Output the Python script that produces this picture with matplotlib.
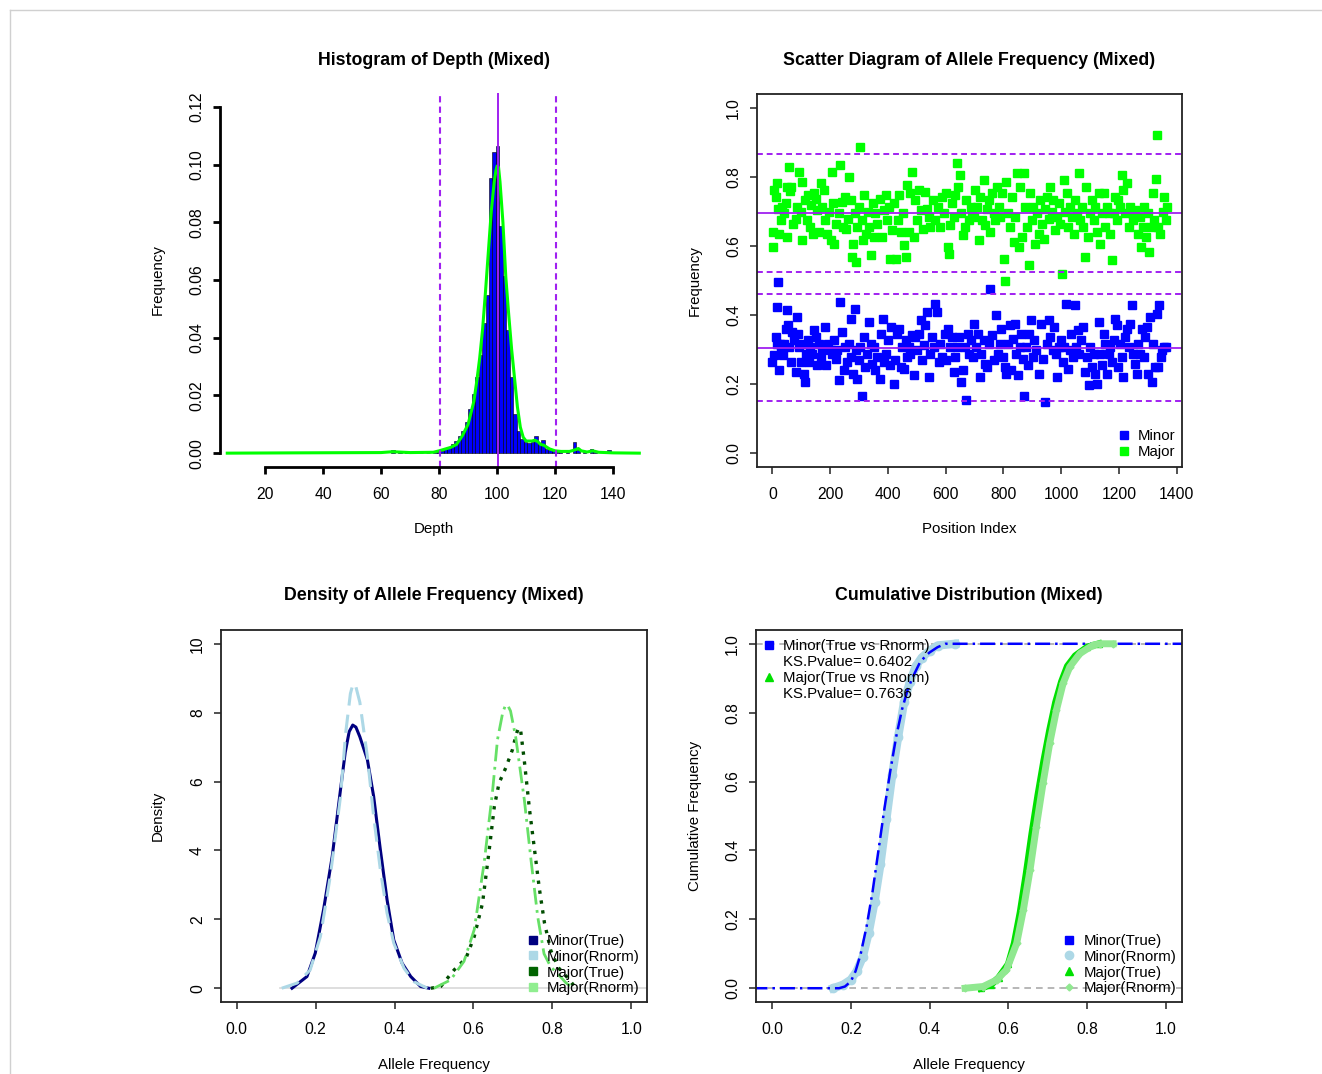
import matplotlib
matplotlib.use("Agg")
import matplotlib.pyplot as plt
from matplotlib.lines import Line2D

plt.rcParams['font.family'] = ['Liberation Sans', 'DejaVu Sans']
plt.rcParams['font.size'] = 10.8

PURPLE = '#A020F0'
BOX = '#222222'

# ---- data: histogram of depth (bin left edges, width 1.2) ----
bin_width = 1.2
depth_bins = [31.2, 34.8, 44.4, 63.6, 66.0, 68.4, 73.2, 75.6, 78.0, 79.2,
              80.4, 81.6, 82.8, 84.0, 85.2, 86.4, 87.6, 88.8, 90.0, 91.2,
              92.4, 93.6, 94.8, 96.0, 97.2, 98.4, 99.6, 100.8, 102.0, 103.2,
              104.4, 105.6, 106.8, 108.0, 109.2, 110.4, 111.6, 112.8, 114.0, 115.2,
              116.4, 117.6, 118.8, 120.0, 121.2, 123.6, 126.0, 127.2, 129.6, 132.0,
              133.2, 138.0]
depth_freq = [0.0002, 0.0002, 0.0002, 0.0010, 0.0003, 0.0003, 0.0002, 0.0002, 0.0004, 0.0005,
              0.0008, 0.0014, 0.0020, 0.0031, 0.0043, 0.0060, 0.0078, 0.0107, 0.0153, 0.0206,
              0.0264, 0.0340, 0.0450, 0.0549, 0.0955, 0.1045, 0.1066, 0.0787, 0.0613, 0.0427,
              0.0264, 0.0136, 0.0078, 0.0049, 0.0040, 0.0036, 0.0040, 0.0058, 0.0030, 0.0045,
              0.0015, 0.0010, 0.0008, 0.0005, 0.0004, 0.0003, 0.0037, 0.0010, 0.0004, 0.0015,
              0.0008, 0.0010]
depth_dens_x = [7, 30, 60, 64, 70, 78, 80, 84, 86, 88, 90, 91, 92, 93, 94, 95, 96, 97, 98,
                99, 99.6, 100, 100.5, 101, 102, 103, 104, 105, 106, 107, 108, 109, 110, 112,
                113, 114, 115, 116, 118, 120, 122, 125, 127, 128, 129, 131, 133, 135, 140, 149]
depth_dens_y = [0.0, 0.0001, 0.0002, 0.0005, 0.0002, 0.0003, 0.0008, 0.002, 0.003, 0.006,
                0.010, 0.014, 0.018, 0.025, 0.033, 0.043, 0.056, 0.070, 0.084, 0.094,
                0.098, 0.0995, 0.099, 0.094, 0.080, 0.061, 0.048, 0.036, 0.026, 0.016,
                0.009, 0.0055, 0.0042, 0.0042, 0.0045, 0.0040, 0.0030, 0.0028, 0.0015,
                0.0008, 0.0006, 0.0006, 0.0012, 0.0016, 0.0008, 0.0004, 0.0008, 0.0003,
                0.0001, 0.0]
depth_mean = 100.3
depth_low, depth_high = 80.3, 120.2

# ---- data: scatter of allele frequency ----
minor_idx = [0, 6, 12, 15, 17, 20, 23, 26, 31, 36, 40, 46, 52, 55, 59, 63, 69, 75, 81, 84,
             89, 92, 98, 104, 109, 113, 117, 123, 128, 132, 138, 144, 150, 156, 161, 167, 173,
             181, 187, 194, 202, 207, 213, 219, 225, 230, 236, 241, 248, 253, 259, 265, 271,
             274, 280, 285, 289, 294, 300, 305, 311, 316, 320, 326, 334, 340, 346, 351, 357,
             363, 371, 377, 382, 388, 394, 400, 407, 412, 421, 426, 432, 438, 444, 449, 455,
             461, 467, 474, 478, 484, 490, 495, 501, 507, 513, 519, 524, 530, 536, 541, 547,
             553, 559, 564, 570, 576, 582, 588, 596, 601, 607, 614, 622, 628, 634, 639, 646,
             654, 660, 666, 672, 676, 682, 688, 694, 699, 706, 712, 718, 724, 731, 737, 743,
             750, 755, 760, 766, 774, 780, 787, 793, 798, 804, 810, 816, 821, 827, 833, 839,
             844, 850, 856, 861, 866, 872, 878, 884, 889, 895, 901, 907, 913, 922, 930, 937,
             945, 950, 956, 962, 970, 976, 982, 987, 993, 999, 1005, 1010, 1017, 1023, 1029,
             1035, 1041, 1046, 1052, 1058, 1063, 1069, 1077, 1083, 1089, 1095, 1101, 1106,
             1112, 1118, 1123, 1129, 1135, 1141, 1147, 1152, 1158, 1164, 1170, 1175, 1181,
             1187, 1193, 1198, 1204, 1210, 1215, 1221, 1227, 1233, 1238, 1244, 1250, 1256,
             1262, 1267, 1273, 1279, 1285, 1290, 1296, 1302, 1308, 1313, 1319, 1325, 1331,
             1336, 1340, 1345, 1350, 1356, 1361]
minor_af = [0.264, 0.283, 0.336, 0.317, 0.423, 0.496, 0.240, 0.317, 0.302, 0.283, 0.317, 0.360,
            0.414, 0.370, 0.307, 0.264, 0.351, 0.327, 0.235, 0.394, 0.346, 0.307, 0.264, 0.317,
            0.230, 0.206, 0.288, 0.327, 0.264, 0.307, 0.288, 0.356, 0.336, 0.254, 0.317, 0.278,
            0.298, 0.365, 0.254, 0.317, 0.298, 0.288, 0.327, 0.273, 0.298, 0.211, 0.438, 0.351,
            0.240, 0.307, 0.264, 0.317, 0.389, 0.278, 0.230, 0.418, 0.298, 0.215, 0.269, 0.307,
            0.167, 0.336, 0.249, 0.288, 0.380, 0.317, 0.259, 0.307, 0.240, 0.278, 0.215, 0.346,
            0.389, 0.264, 0.288, 0.327, 0.254, 0.365, 0.201, 0.269, 0.346, 0.360, 0.249, 0.307,
            0.244, 0.327, 0.278, 0.307, 0.288, 0.341, 0.225, 0.336, 0.298, 0.346, 0.385, 0.269,
            0.312, 0.370, 0.409, 0.220, 0.288, 0.336, 0.307, 0.433, 0.409, 0.264, 0.317, 0.278,
            0.346, 0.269, 0.360, 0.307, 0.336, 0.235, 0.278, 0.307, 0.336, 0.206, 0.240, 0.307,
            0.153, 0.346, 0.288, 0.327, 0.278, 0.375, 0.307, 0.346, 0.220, 0.288, 0.327, 0.259,
            0.249, 0.317, 0.476, 0.341, 0.269, 0.399, 0.288, 0.317, 0.360, 0.278, 0.249, 0.230,
            0.317, 0.370, 0.240, 0.331, 0.375, 0.288, 0.225, 0.307, 0.346, 0.273, 0.167, 0.307,
            0.254, 0.346, 0.385, 0.278, 0.327, 0.298, 0.230, 0.375, 0.273, 0.148, 0.317, 0.385,
            0.336, 0.298, 0.365, 0.288, 0.220, 0.307, 0.327, 0.264, 0.307, 0.433, 0.244, 0.298,
            0.346, 0.278, 0.428, 0.307, 0.356, 0.288, 0.327, 0.365, 0.235, 0.278, 0.196, 0.307,
            0.249, 0.288, 0.230, 0.201, 0.380, 0.288, 0.254, 0.346, 0.317, 0.230, 0.288, 0.307,
            0.264, 0.327, 0.389, 0.370, 0.249, 0.317, 0.278, 0.220, 0.336, 0.360, 0.307, 0.375,
            0.428, 0.288, 0.259, 0.230, 0.317, 0.288, 0.360, 0.278, 0.336, 0.365, 0.230, 0.394,
            0.206, 0.317, 0.249, 0.404, 0.249, 0.428, 0.278, 0.298, 0.307, 0.307]
major_idx = [3, 3, 6, 12, 15, 20, 23, 29, 35, 40, 46, 50, 52, 58, 61, 66, 73, 81, 86, 92, 98,
             104, 104, 112, 119, 123, 130, 135, 142, 144, 150, 156, 161, 167, 173, 179, 184,
             190, 196, 202, 207, 211, 215, 222, 230, 236, 242, 245, 251, 256, 262, 267, 271,
             276, 280, 285, 290, 294, 300, 305, 311, 315, 319, 325, 331, 336, 342, 347, 351,
             357, 363, 372, 380, 386, 392, 397, 403, 409, 415, 421, 429, 434, 440, 446, 453,
             457, 461, 467, 472, 478, 484, 490, 495, 501, 507, 513, 522, 530, 536, 541, 547,
             556, 564, 573, 580, 587, 593, 601, 607, 611, 616, 622, 628, 634, 639, 643, 649,
             654, 660, 666, 672, 680, 686, 691, 697, 703, 709, 714, 720, 726, 731, 737, 743,
             749, 755, 760, 766, 772, 778, 784, 789, 795, 803, 807, 810, 816, 821, 829, 835,
             841, 847, 853, 858, 864, 870, 876, 881, 887, 893, 899, 904, 910, 916, 922, 927,
             933, 939, 945, 950, 956, 962, 968, 973, 979, 985, 991, 997, 1002, 1008, 1014,
             1020, 1025, 1031, 1037, 1043, 1048, 1054, 1060, 1066, 1071, 1077, 1083, 1086,
             1091, 1098, 1106, 1112, 1118, 1123, 1129, 1135, 1141, 1147, 1152, 1158, 1164,
             1170, 1175, 1181, 1187, 1193, 1198, 1204, 1210, 1215, 1221, 1227, 1233, 1238,
             1244, 1250, 1256, 1264, 1271, 1276, 1282, 1288, 1294, 1300, 1305, 1311, 1317,
             1322, 1328, 1333, 1336, 1342, 1352, 1356, 1361, 1365]
major_af = [0.597, 0.641, 0.761, 0.742, 0.781, 0.708, 0.636, 0.674, 0.713, 0.694, 0.723, 0.771,
            0.626, 0.829, 0.758, 0.771, 0.665, 0.679, 0.713, 0.815, 0.699, 0.786, 0.617, 0.732,
            0.674, 0.747, 0.655, 0.718, 0.636, 0.752, 0.737, 0.703, 0.641, 0.781, 0.713, 0.761,
            0.674, 0.636, 0.699, 0.616, 0.815, 0.723, 0.607, 0.665, 0.694, 0.834, 0.728, 0.655,
            0.742, 0.650, 0.679, 0.800, 0.732, 0.568, 0.607, 0.694, 0.554, 0.655, 0.713, 0.887,
            0.674, 0.616, 0.747, 0.636, 0.699, 0.655, 0.573, 0.723, 0.626, 0.694, 0.665, 0.737,
            0.626, 0.703, 0.747, 0.674, 0.713, 0.563, 0.645, 0.723, 0.563, 0.674, 0.747, 0.641,
            0.694, 0.602, 0.568, 0.776, 0.641, 0.752, 0.815, 0.626, 0.732, 0.674, 0.761, 0.703,
            0.650, 0.757, 0.708, 0.684, 0.655, 0.732, 0.674, 0.713, 0.655, 0.742, 0.694, 0.752,
            0.597, 0.578, 0.660, 0.723, 0.684, 0.747, 0.839, 0.771, 0.805, 0.694, 0.631, 0.655,
            0.732, 0.674, 0.713, 0.694, 0.684, 0.761, 0.713, 0.616, 0.742, 0.674, 0.790, 0.660,
            0.708, 0.732, 0.641, 0.752, 0.694, 0.674, 0.771, 0.713, 0.684, 0.752, 0.563, 0.500,
            0.786, 0.694, 0.655, 0.742, 0.612, 0.684, 0.810, 0.597, 0.771, 0.626, 0.810, 0.713,
            0.655, 0.544, 0.752, 0.674, 0.713, 0.607, 0.694, 0.636, 0.732, 0.665, 0.621, 0.708,
            0.742, 0.679, 0.771, 0.699, 0.732, 0.645, 0.684, 0.723, 0.665, 0.520, 0.790, 0.699,
            0.752, 0.655, 0.713, 0.684, 0.636, 0.732, 0.694, 0.810, 0.674, 0.713, 0.655, 0.568,
            0.771, 0.626, 0.694, 0.732, 0.674, 0.713, 0.641, 0.752, 0.607, 0.694, 0.752, 0.655,
            0.713, 0.694, 0.636, 0.558, 0.694, 0.742, 0.674, 0.732, 0.713, 0.805, 0.761, 0.694,
            0.781, 0.655, 0.713, 0.694, 0.674, 0.703, 0.636, 0.684, 0.597, 0.655, 0.713, 0.626,
            0.694, 0.583, 0.655, 0.752, 0.674, 0.795, 0.921, 0.655, 0.636, 0.699, 0.742, 0.674,
            0.713]
minor_mean, minor_lo, minor_hi = 0.305, 0.151, 0.461
major_mean, major_lo, major_hi = 0.694, 0.524, 0.866

# ---- data: density curves ----
minor_true_x = [0.140, 0.178, 0.199, 0.220, 0.242, 0.263, 0.275, 0.285, 0.294, 0.302, 0.312,
                0.331, 0.347, 0.364, 0.381, 0.398, 0.419, 0.441, 0.466, 0.487]
minor_true_d = [0.0, 0.34, 1.02, 2.28, 3.83, 5.77, 6.85, 7.45, 7.64, 7.58, 7.30, 6.64, 5.57,
                4.02, 2.57, 1.40, 0.73, 0.34, 0.05, 0.0]
minor_rnorm_x = [0.114, 0.153, 0.186, 0.212, 0.237, 0.263, 0.276, 0.288, 0.295, 0.302, 0.312,
                 0.331, 0.347, 0.364, 0.381, 0.398, 0.424, 0.449, 0.483]
minor_rnorm_d = [0.0, 0.15, 0.53, 1.50, 3.25, 5.57, 7.40, 8.55, 8.85, 8.75, 8.30, 6.73, 4.99,
                 3.44, 2.18, 1.31, 0.58, 0.19, 0.0]
major_true_x = [0.492, 0.517, 0.551, 0.581, 0.602, 0.623, 0.640, 0.653, 0.665, 0.682, 0.699,
                0.708, 0.714, 0.720, 0.729, 0.742, 0.754, 0.767, 0.780, 0.796, 0.815, 0.839,
                0.860]
major_true_d = [0.0, 0.05, 0.53, 0.87, 1.50, 2.47, 4.02, 5.28, 5.96, 6.40, 6.93, 7.35, 7.56,
                7.45, 6.60, 5.20, 4.10, 2.90, 1.90, 1.10, 0.60, 0.30, 0.0]
major_rnorm_x = [0.500, 0.542, 0.576, 0.602, 0.627, 0.648, 0.661, 0.674, 0.680, 0.686, 0.694,
                 0.707, 0.729, 0.746, 0.763, 0.779, 0.796, 0.813, 0.835, 0.855]
major_rnorm_d = [0.0, 0.24, 0.78, 1.70, 3.63, 5.67, 7.22, 7.99, 8.18, 8.23, 8.05, 7.30, 5.47,
                 3.72, 2.07, 1.00, 0.62, 0.43, 0.15, 0.0]

# ---- data: cumulative distributions ----
cdf_minor_true_x = [0.17, 0.185, 0.20, 0.212, 0.225, 0.24, 0.255, 0.27, 0.285, 0.30, 0.315,
                    0.33, 0.345, 0.36, 0.375, 0.39, 0.40, 0.42, 0.44]
cdf_minor_true_y = [0.0, 0.005, 0.02, 0.05, 0.10, 0.18, 0.28, 0.40, 0.52, 0.63, 0.73, 0.81,
                    0.87, 0.91, 0.945, 0.965, 0.975, 0.99, 1.0]
cdf_minor_rnorm_x = [0.155, 0.18, 0.20, 0.215, 0.23, 0.245, 0.26, 0.275, 0.29, 0.305, 0.32,
                     0.335, 0.35, 0.365, 0.38, 0.40, 0.42, 0.465]
cdf_minor_rnorm_y = [0.0, 0.01, 0.025, 0.05, 0.09, 0.16, 0.25, 0.36, 0.49, 0.62, 0.73, 0.83,
                     0.89, 0.935, 0.96, 0.98, 0.995, 1.0]
cdf_major_true_x = [0.53, 0.555, 0.575, 0.60, 0.615, 0.63, 0.645, 0.66, 0.675, 0.69, 0.705,
                    0.72, 0.735, 0.75, 0.77, 0.80, 0.83]
cdf_major_true_y = [0.0, 0.01, 0.03, 0.07, 0.13, 0.22, 0.33, 0.45, 0.56, 0.66, 0.75, 0.83,
                    0.89, 0.935, 0.965, 0.99, 1.0]
cdf_major_rnorm_x = [0.49, 0.536, 0.57, 0.595, 0.621, 0.638, 0.655, 0.671, 0.688, 0.705, 0.722,
                     0.739, 0.756, 0.782, 0.815, 0.832, 0.866]
cdf_major_rnorm_y = [0.0, 0.005, 0.024, 0.053, 0.13, 0.227, 0.343, 0.469, 0.595, 0.711, 0.807,
                     0.885, 0.933, 0.972, 0.996, 1.0, 1.0]
ks_minor, ks_major = 0.6402, 0.7636

W, H = 1322, 1074
fig = plt.figure(figsize=(W / 100, H / 100), dpi=100)


def px_axes(l, t, r, b):
    return fig.add_axes([l / W, 1 - b / H, (r - l) / W, (b - t) / H])


def style_box(ax):
    for s in ax.spines.values():
        s.set_color(BOX)
        s.set_linewidth(1.3)
    ax.tick_params(direction='out', length=5, width=1.1, color=BOX, labelsize=11.3)
    ax.tick_params(axis='x', pad=9.5)
    ax.tick_params(axis='y', labelrotation=90, pad=6.5)
    for lab in ax.get_yticklabels():
        lab.set_va('center')


def labels(ax, title, xl, yl, ty, xy, yx):
    ax.set_title(title, fontsize=12.8, fontweight='bold', y=ty, va='center', pad=0)
    ax.set_xlabel(xl, fontsize=10.8)
    ax.set_ylabel(yl, fontsize=10.8)
    ax.xaxis.set_label_coords(0.5, xy)
    ax.yaxis.set_label_coords(yx, 0.5)
    ax.xaxis.label.set_va('center')
    ax.yaxis.label.set_va('center')


# ---------- histogram ----------
ax1 = px_axes(220, 93, 648, 467)
ax1.bar(depth_bins, depth_freq, width=bin_width, align='edge', color='#0000FF',
        edgecolor='black', linewidth=0.4)
ax1.plot(depth_dens_x, depth_dens_y, color='#00FF00', lw=2.2)
ax1.axvline(depth_mean, color=PURPLE, lw=1.4)
for v in (depth_low, depth_high):
    ax1.axvline(v, color=PURPLE, lw=1.5, ls=(0, (3, 2)))
ax1.set_xlim(4.5, 152)
ax1.set_ylim(-0.0048, 0.1248)
ax1.set_xticks(range(20, 141, 20))
ax1.set_yticks([0, 0.02, 0.04, 0.06, 0.08, 0.10, 0.12])
ax1.set_yticklabels(['0.00', '0.02', '0.04', '0.06', '0.08', '0.10', '0.12'])
style_box(ax1)
ax1.spines['top'].set_visible(False)
ax1.spines['right'].set_visible(False)
ax1.spines['bottom'].set_bounds(20, 140)
ax1.spines['left'].set_bounds(0, 0.12)
ax1.spines['bottom'].set_color('black')
ax1.spines['left'].set_color('black')
ax1.spines['bottom'].set_linewidth(2)
ax1.spines['left'].set_linewidth(2)
ax1.tick_params(width=2, color='black')
labels(ax1, 'Histogram of Depth (Mixed)', 'Depth', 'Frequency', 1.087, -0.166, -0.145)

# ---------- scatter ----------
ax2 = px_axes(757, 94, 1182, 467)
ax2.plot(minor_idx, minor_af, 's', color='#0000FF', ms=5.6, label='Minor')
ax2.plot(major_idx, major_af, 's', color='#00FF00', ms=5.6, label='Major')
for v in (minor_mean, major_mean):
    ax2.axhline(v, color=PURPLE, lw=1.3)
for v in (minor_lo, minor_hi, major_lo, major_hi):
    ax2.axhline(v, color=PURPLE, lw=1.4, ls=(0, (3, 2)))
ax2.set_xlim(-53, 1418)
ax2.set_ylim(-0.04, 1.04)
ax2.set_xticks(range(0, 1401, 200))
ax2.set_yticks([0, 0.2, 0.4, 0.6, 0.8, 1.0])
ax2.set_yticklabels(['0.0', '0.2', '0.4', '0.6', '0.8', '1.0'])
style_box(ax2)
ax2.legend(loc='lower left', bbox_to_anchor=(0.849, 0.022), frameon=False, borderpad=0,
           borderaxespad=0, handlelength=0.8, handletextpad=0.55, labelspacing=0.12,
           fontsize=10.8)
labels(ax2, 'Scatter Diagram of Allele Frequency (Mixed)', 'Position Index', 'Frequency',
       1.09, -0.166, -0.146)

# ---------- density ----------
ax3 = px_axes(221, 630, 647, 1002)
ax3.plot([0.11, 1.05], [0, 0], color='#d8d8d8', lw=1.2)
ax3.plot(minor_true_x, minor_true_d, color='#000080', lw=2.2)
ax3.plot(minor_rnorm_x, minor_rnorm_d, color='#ADD8E6', lw=2.2, ls=(0, (6, 3)))
ax3.plot(major_true_x, major_true_d, color='#004d00', lw=2.4, ls=(0, (1, 2)))
ax3.plot(major_rnorm_x, major_rnorm_d, color='#66E066', lw=2.0, ls=(0, (6, 2, 1, 2)))
ax3.set_xlim(-0.04, 1.04)
ax3.set_ylim(-0.4, 10.4)
ax3.set_xticks([0, 0.2, 0.4, 0.6, 0.8, 1.0])
ax3.set_xticklabels(['0.0', '0.2', '0.4', '0.6', '0.8', '1.0'])
ax3.set_yticks([0, 2, 4, 6, 8, 10])
style_box(ax3)
dens_handles = [Line2D([], [], ls='none', marker='s', ms=6, color=c)
                for c in ('#000080', '#ADD8E6', '#006400', '#90EE90')]
ax3.legend(dens_handles, ['Minor(True)', 'Minor(Rnorm)', 'Major(True)', 'Major(Rnorm)'],
           loc='lower left', bbox_to_anchor=(0.718, 0.018), frameon=False, borderpad=0,
           borderaxespad=0, handlelength=0.8, handletextpad=0.55, labelspacing=0.12,
           fontsize=10.8)
labels(ax3, 'Density of Allele Frequency (Mixed)', 'Allele Frequency', 'Density',
       1.092, -0.169, -0.148)

# ---------- cumulative ----------
ax4 = px_axes(756, 630, 1182, 1002)
ax4.axhline(0, color='#aaaaaa', lw=1.2, ls=(0, (4, 3)))
ax4.axhline(1, color='#aaaaaa', lw=1.2, ls=(0, (4, 3)))
ax4.plot(cdf_minor_rnorm_x, cdf_minor_rnorm_y, color='#ADD8E6', lw=6, marker='o', ms=6)
ax4.plot([-0.05] + cdf_minor_true_x + [1.05], [0] + cdf_minor_true_y + [1],
         color='#0000FF', lw=1.8, ls=(0, (6, 2, 1, 2)))
ax4.plot(cdf_major_true_x, cdf_major_true_y, color='#00E000', lw=5, marker='^', ms=5)
ax4.plot(cdf_major_rnorm_x, cdf_major_rnorm_y, color='#90E890', lw=5, marker='D', ms=3.5)
ax4.set_xlim(-0.041, 1.041)
ax4.set_ylim(-0.04, 1.04)
ax4.set_xticks([0, 0.2, 0.4, 0.6, 0.8, 1.0])
ax4.set_xticklabels(['0.0', '0.2', '0.4', '0.6', '0.8', '1.0'])
ax4.set_yticks([0, 0.2, 0.4, 0.6, 0.8, 1.0])
ax4.set_yticklabels(['0.0', '0.2', '0.4', '0.6', '0.8', '1.0'])
style_box(ax4)
ks_handles = [Line2D([], [], ls='none', marker='s', ms=6, color='#0000FF'),
              Line2D([], [], ls='none'),
              Line2D([], [], ls='none', marker='^', ms=6, color='#00E000'),
              Line2D([], [], ls='none')]
ks_leg = ax4.legend(ks_handles, ['Minor(True vs Rnorm)', f'KS.Pvalue= {ks_minor}',
                                 'Major(True vs Rnorm)', f'KS.Pvalue= {ks_major}'],
                    loc='upper left', bbox_to_anchor=(0.016, 0.975), frameon=False,
                    borderpad=0, borderaxespad=0, handlelength=0.8, handletextpad=0.55,
                    labelspacing=0.12, fontsize=10.8)
ax4.add_artist(ks_leg)
cdf_handles = [Line2D([], [], ls='none', marker='s', ms=6, color='#0000FF'),
               Line2D([], [], ls='none', marker='o', ms=6, color='#ADD8E6'),
               Line2D([], [], ls='none', marker='^', ms=6, color='#00E000'),
               Line2D([], [], ls='none', marker='D', ms=3.5, color='#90E890')]
ax4.legend(cdf_handles, ['Minor(True)', 'Minor(Rnorm)', 'Major(True)', 'Major(Rnorm)'],
           loc='lower left', bbox_to_anchor=(0.721, 0.018), frameon=False, borderpad=0,
           borderaxespad=0, handlelength=0.8, handletextpad=0.55, labelspacing=0.12,
           fontsize=10.8)
labels(ax4, 'Cumulative Distribution (Mixed)', 'Allele Frequency', 'Cumulative Frequency',
       1.092, -0.169, -0.143)

# thin frame around the picture
fig.add_artist(Line2D([10 / W, 1], [1 - 10 / H, 1 - 10 / H], color='#d0d0d0', lw=1))
fig.add_artist(Line2D([10 / W, 10 / W], [0, 1 - 10 / H], color='#d0d0d0', lw=1))

fig.savefig('out.png', dpi=100)
